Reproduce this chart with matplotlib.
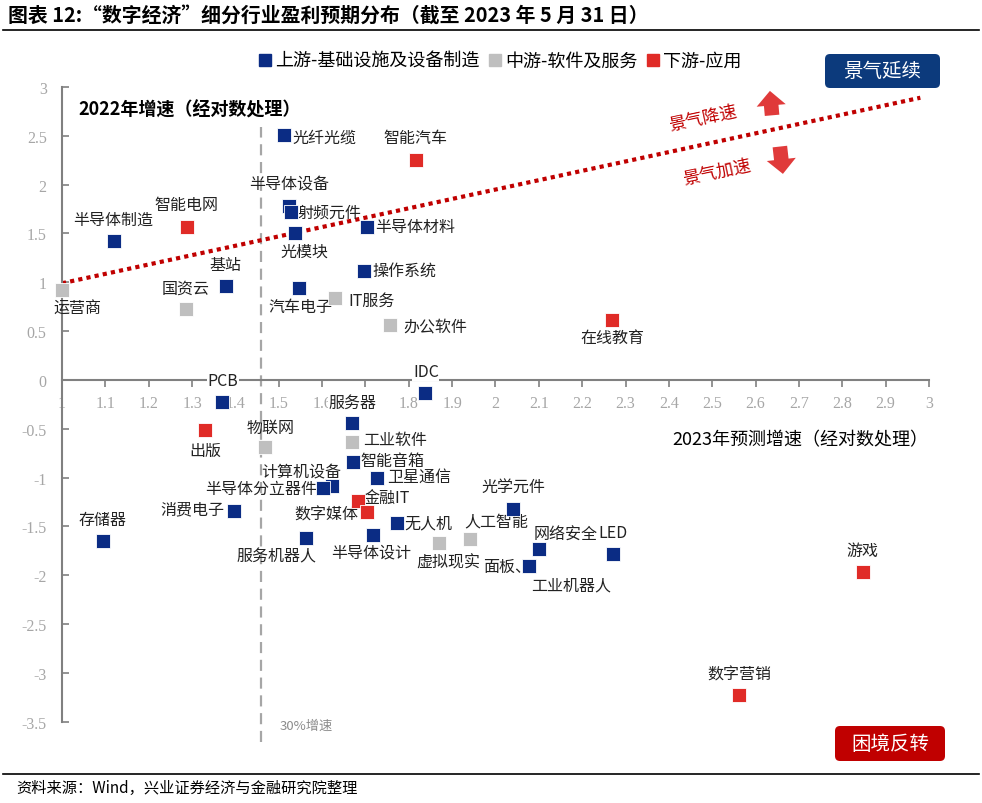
import numpy as np
import matplotlib
matplotlib.use("Agg")
import matplotlib.pyplot as plt
from matplotlib.lines import Line2D
from matplotlib.patches import FancyBboxPatch

plt.rcParams['font.family'] = ['Noto Sans CJK SC', 'DejaVu Sans']
plt.rcParams['axes.unicode_minus'] = False

# x = 2023年预测增速(对数), y = 2022年增速(对数)
up_names = ["光纤光缆", "半导体设备", "射频元件", "光模块", "半导体材料", "操作系统",
            "汽车电子", "基站", "半导体制造", "IDC", "PCB", "服务器", "智能音箱",
            "卫星通信", "计算机设备", "半导体分立器件", "消费电子", "无人机",
            "服务机器人", "半导体设计", "存储器", "光学元件", "网络安全", "LED",
            "面板、", "工业机器人"]
up_x = [1.512, 1.523, 1.528, 1.537, 1.703, 1.697, 1.547, 1.378, 1.119, 1.837,
        1.368, 1.670, 1.672, 1.727, 1.622, 1.603, 1.396, 1.772, 1.564, 1.717,
        1.094, 2.041, 2.100, 2.272, 2.077, 2.077]
up_y = [2.51, 1.786, 1.718, 1.506, 1.571, 1.12, 0.946, 0.966, 1.424, -0.13,
        -0.229, -0.44, -0.837, -1.007, -1.09, -1.107, -1.339, -1.469, -1.622,
        -1.588, -1.646, -1.322, -1.732, -1.783, -1.909, -1.909]

mid_names = ["运营商", "国资云", "IT服务", "办公软件", "物联网", "工业软件", "虚拟现实", "人工智能"]
mid_x = [1.0, 1.285, 1.630, 1.757, 1.469, 1.668, 1.870, 1.941]
mid_y = [0.925, 0.727, 0.837, 0.563, -0.69, -0.632, -1.67, -1.629]

down_names = ["智能汽车", "智能电网", "在线教育", "出版", "金融IT", "数字媒体", "游戏", "数字营销"]
down_x = [1.816, 1.288, 2.269, 1.330, 1.682, 1.703, 2.847, 2.562]
down_y = [2.257, 1.571, 0.618, -0.512, -1.236, -1.349, -1.971, -3.227]

legend_labels = ["上游-基础设施及设备制造", "中游-软件及服务", "下游-应用"]
colors = ["#0b2c84", "#bfbfbf", "#e02b27"]

# trend line end points
trend_x = [1.0, 2.98]
trend_y = [0.99, 2.89]

# label offsets in pixels (dx, dy, ha)
offsets = {
    "光纤光缆": (9, -2, 'left'), "半导体设备": (0, 22, 'center'), "射频元件": (7, 0, 'left'),
    "光模块": (10, -18, 'center'), "半导体材料": (8, 0, 'left'), "操作系统": (8, 0, 'left'),
    "汽车电子": (1, -19, 'center'), "基站": (0, 21, 'center'), "半导体制造": (0, 22, 'center'),
    "IDC": (1, 21, 'center'), "PCB": (1, 22, 'center'), "服务器": (0, 21, 'center'),
    "智能音箱": (7, 1, 'left'), "卫星通信": (10, 2, 'left'), "计算机设备": (-30, 14, 'center'),
    "半导体分立器件": (-6, 0, 'right'), "消费电子": (-9, 2, 'right'), "无人机": (8, 0, 'left'),
    "服务机器人": (-30, -18, 'center'), "半导体设计": (-2, -17, 'center'), "存储器": (0, 21, 'center'),
    "光学元件": (0, 22, 'center'), "网络安全": (27, 15, 'center'), "LED": (0, 21, 'center'),
    "面板、": (2, 0, 'right'), "工业机器人": (42, -19, 'center'),
    "运营商": (15, -19, 'center'), "国资云": (0, 21, 'center'), "IT服务": (13, -2, 'left'),
    "办公软件": (13, -1, 'left'), "物联网": (5, 20, 'center'), "工业软件": (12, 2, 'left'),
    "虚拟现实": (9, -19, 'center'), "人工智能": (26, 17, 'center'),
    "智能汽车": (0, 22, 'center'), "智能电网": (0, 22, 'center'), "在线教育": (0, -18, 'center'),
    "出版": (0, -21, 'center'), "金融IT": (6, 3, 'left'), "数字媒体": (-8, -2, 'right'),
    "游戏": (0, 22, 'center'), "数字营销": (0, 21, 'center'),
}
# labels sitting on the x-axis tick labels get a white background
masked = {"服务器", "PCB", "IDC"}

fig = plt.figure(figsize=(9.82, 8.04), dpi=100)
ax = fig.add_axes([62 / 982, 1 - 747 / 804, (929 - 62) / 982, (747 - 88) / 804])
ax.set_xlim(1, 3)
ax.set_ylim(-3.75, 3)

groups = [(up_names, up_x, up_y), (mid_names, mid_x, mid_y), (down_names, down_x, down_y)]
for (names, xs, ys), c in zip(groups, colors):
    ax.scatter(xs, ys, s=92, marker='s', color=c, linewidths=0.6, edgecolors='white',
               zorder=3, clip_on=False)
    for n, x, y in zip(names, xs, ys):
        dx, dy, ha = offsets[n]
        bb = dict(facecolor='white', edgecolor='none', pad=0.5) if n in masked else None
        ax.annotate(n, (x, y), xytext=(dx * 0.72, dy * 0.72), textcoords='offset points',
                    ha=ha, va='center', fontsize=11.5, color='#222222', zorder=2.8, bbox=bb)

ax.plot(trend_x, trend_y, linestyle=(0, (1, 1)), color='#c00000', lw=3, zorder=2)
ax.vlines(1.46, -3.71, 2.59, colors='#a6a6a6', linestyles=(0, (5, 3)), lw=1.6, zorder=1)

# spines
for s in ['top', 'right']:
    ax.spines[s].set_visible(False)
ax.spines['bottom'].set_position(('data', 0))
ax.spines['left'].set_bounds(-3.5, 3)
for s in ['left', 'bottom']:
    ax.spines[s].set_color('#808080')
    ax.spines[s].set_linewidth(1.5)

ax.set_xticks(np.arange(1, 3.01, 0.1))
ax.set_xticklabels(["%g" % round(v, 1) for v in np.arange(1, 3.01, 0.1)])
ax.set_yticks(np.arange(-3.5, 3.01, 0.5))
ax.set_yticklabels(["%g" % v for v in np.arange(-3.5, 3.01, 0.5)])
ax.tick_params(axis='x', direction='out', length=5, width=1.2, color='#808080',
               labelcolor='#a6a6a6', labelsize=11.5, pad=6)
ax.tick_params(axis='y', direction='in', length=5, width=1.2, color='#808080',
               labelcolor='#a6a6a6', labelsize=11.5, pad=11)
for lbl in ax.get_xticklabels() + ax.get_yticklabels():
    lbl.set_fontfamily('Liberation Serif')

# zone annotations
ax.text(2.479, 2.684, "景气降速", color='#c00000', fontsize=12.5, rotation=12,
        ha='center', va='center')
ax.text(2.511, 2.134, "景气加速", color='#c00000', fontsize=12.5, rotation=12,
        ha='center', va='center')
arrow_style = 'simple,head_length=0.7,head_width=1.4,tail_width=0.7'
ax.annotate('', xy=(2.633, 2.96), xytext=(2.638, 2.71),
            arrowprops=dict(arrowstyle=arrow_style, color='#e03a3a', lw=0,
                            mutation_scale=15, shrinkA=0, shrinkB=0))
ax.annotate('', xy=(2.663, 2.11), xytext=(2.656, 2.39),
            arrowprops=dict(arrowstyle=arrow_style, color='#e03a3a', lw=0,
                            mutation_scale=15, shrinkA=0, shrinkB=0))

# axis titles
fig.text(78 / 982, 1 - 110 / 804, "2022年增速（经对数处理）", fontsize=13, fontweight='bold',
         ha='left', va='center')
fig.text(928 / 982, 1 - 440 / 804, "2023年预测增速（经对数处理）", fontsize=13,
         ha='right', va='center')
fig.text(280 / 982, 1 - 726 / 804, "30%增速", fontsize=9.5, color='#8c8c8c',
         ha='left', va='center')

# title and footer
fig.text(8 / 982, 1 - 15 / 804, "图表 12:“数字经济”细分行业盈利预期分布（截至 2023 年 5 月 31 日）",
         fontsize=14.3, fontweight='bold', ha='left', va='center')
fig.add_artist(Line2D([0.003, 0.997], [1 - 31 / 804] * 2, color='black', lw=1.2))
fig.add_artist(Line2D([0.003, 0.997], [1 - 775 / 804] * 2, color='black', lw=1.2))
fig.text(16 / 982, 1 - 788 / 804, "资料来源：Wind，兴业证券经济与金融研究院整理", fontsize=11,
         ha='left', va='center')

# legend
handles = [Line2D([], [], marker='s', linestyle='none', color=c, markersize=9) for c in colors]
fig.legend(handles, legend_labels, loc='center', bbox_to_anchor=(500 / 982, 1 - 62 / 804),
           ncol=3, frameon=False, fontsize=13, handlelength=0.7, handletextpad=0.2,
           columnspacing=0.5)

# corner boxes
box1 = FancyBboxPatch((8.25, 7.15), 1.15, 0.34, boxstyle='round,pad=0,rounding_size=0.05',
                      transform=fig.dpi_scale_trans, facecolor='#0c3a7c', edgecolor='none')
fig.add_artist(box1)
fig.text(8.825 / 9.82, 7.32 / 8.04, "景气延续", color='white', fontsize=14, ha='center', va='center')
box2 = FancyBboxPatch((8.35, 0.42), 1.1, 0.35, boxstyle='round,pad=0,rounding_size=0.05',
                      transform=fig.dpi_scale_trans, facecolor='#c00000', edgecolor='none')
fig.add_artist(box2)
fig.text(8.9 / 9.82, 0.595 / 8.04, "困境反转", color='white', fontsize=14, ha='center', va='center')

fig.savefig("out.png", dpi=100)
